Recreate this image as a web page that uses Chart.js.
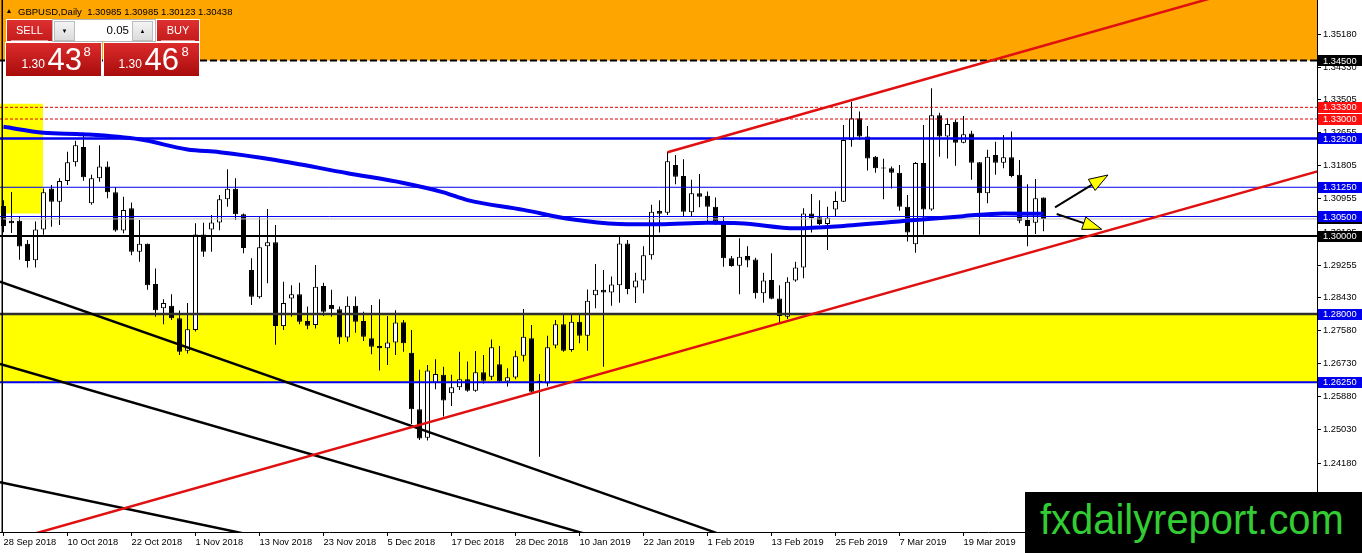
<!DOCTYPE html>
<html>
<head>
<meta charset="utf-8">
<title>GBPUSD,Daily</title>
<script src="https://cdn.jsdelivr.net/npm/chart.js@4.4.1/dist/chart.umd.min.js"></script>
<style>
  html, body { margin: 0; padding: 0; background: #fff; }
  #wrap { position: relative; width: 1362px; height: 553px; overflow: hidden;
          font-family: "Liberation Sans", Arial, sans-serif; }
  #chart { position: absolute; left: 0; top: 0; }
  .abs { position: absolute; white-space: nowrap; line-height: 1; }
  #tri { left: 7px; top: 9px; width: 0; height: 0;
         border-left: 2.5px solid transparent; border-right: 2.5px solid transparent;
         border-bottom: 4px solid #000; }
  #hdr { left: 18px; top: 6.5px; font-size: 9.5px; color: #000; }
  .btn { position: absolute; top: 20px; height: 21px; color: #fff; font-size: 11px;
         text-align: center; line-height: 21px;
         background: linear-gradient(#de3030, #c41b1b); box-shadow: 0 0 0 1px #fff; }
  .btn:after { content: ""; position: absolute; left: 4px; right: 4px; bottom: 0; height: 1px;
               background: rgba(255,255,255,0.55); }
  #lot { position: absolute; left: 52px; top: 19px; width: 102px; height: 21px;
         background: #fff; border: 1px solid #b8b8b8; }
  .spin { position: absolute; top: 1px; width: 19px; height: 18px; background: linear-gradient(#f4f4f4, #dcdcdc);
          border: 1px solid #bdbdbd; font-size: 6px; text-align: center; line-height: 18px; color: #000; }
  #lotv { right: 26px; top: 5px; font-size: 11.5px; color: #000; position: absolute; line-height: 1; }
  .px { position: absolute; top: 42.5px; width: 95px; height: 33.5px;
        background: linear-gradient(#dc2b2b, #a90c0c); box-shadow: 0 0 0 1px #fff; }
  .px span { position: absolute; color: #fff; line-height: 1; white-space: nowrap; }
  .s { font-size: 12px; top: 15.5px; }
  .b { font-size: 31px; top: 1.3px; }
  .e { font-size: 13px; top: 2.5px; }
  #wm { position: absolute; left: 1025px; top: 492px; width: 337px; height: 61px; background: #000; }
  #wmt { position: absolute; left: 15px; top: 7.4px; font-size: 42px; color: #33cc33; line-height: 1;
         white-space: nowrap; transform: scaleX(0.95); transform-origin: 0 0; }
</style>
</head>
<body>
<div id="wrap">
  <canvas id="chart" width="1362" height="553"></canvas>

  <div id="tri" class="abs"></div>
  <div id="hdr" class="abs">GBPUSD,Daily&nbsp; 1.30985 1.30985 1.30123 1.30438</div>

  <div class="btn" style="left:7px;width:45px;">SELL</div>
  <div id="lot">
    <div class="spin" style="left:1px;">&#9660;</div>
    <div id="lotv">0.05</div>
    <div class="spin" style="left:79px;">&#9650;</div>
  </div>
  <div class="btn" style="left:157px;width:42px;">BUY</div>

  <div class="px" style="left:6px;">
    <span class="s" style="left:15.5px;">1.30</span>
    <span class="b" style="left:41.5px;">43</span>
    <span class="e" style="left:77.5px;">8</span>
  </div>
  <div class="px" style="left:104px;">
    <span class="s" style="left:14.5px;">1.30</span>
    <span class="b" style="left:40.5px;">46</span>
    <span class="e" style="left:77.5px;">8</span>
  </div>

  <div id="wm"><div id="wmt">fxdailyreport.com</div></div>
</div>

<script>
// daily bars, one per trading day from 28 Sep 2018 (index 0) to the current bar
const openP = [
  1.3077,1.3039,1.3039,1.2980,1.2938,1.3017,1.3122,1.3088,1.3141,1.3189,
  1.3228,1.3084,1.3148,1.3178,1.3112,1.3014,1.3071,1.2960,1.2980,1.2877,
  1.2815,1.2821,1.2789,1.2706,1.2759,1.3004,1.3017,1.3035,1.3094,1.3121,
  1.3056,1.2913,1.2843,1.2974,1.2984,1.2769,1.2840,1.2851,1.2782,1.2772,
  1.2872,1.2823,1.2812,1.2740,1.2821,1.2782,1.2738,1.2718,1.2712,1.2727,
  1.2779,1.2701,1.2556,1.2483,1.2624,1.2644,1.2597,1.2612,1.2633,1.2603,
  1.2651,1.2639,1.2671,1.2627,1.2637,1.2693,1.2738,1.2624,1.2622,1.2719,
  1.2774,1.2708,1.2780,1.2744,1.2848,1.2862,1.2855,1.2874,1.2981,1.2868,
  1.2886,1.2951,1.3064,1.3060,1.3182,1.3154,1.3061,1.3110,1.3103,1.3075,
  1.3033,1.2943,1.2924,1.2949,1.2940,1.2853,1.2887,1.2840,1.2793,1.2886,
  1.2919,1.3058,1.3048,1.3031,1.3068,1.3088,1.3246,1.3302,1.3255,1.3203,
  1.3174,1.3174,1.3162,1.3075,1.2979,1.3187,1.3068,1.3310,1.3255,1.3293,
  1.3239,1.3263,1.3189,1.3110,1.3208,1.3188,1.3202,1.3157,1.3041,1.3034,
  1.30985
];
const highP = [
  1.3092,1.3113,1.3050,1.2990,1.3037,1.3122,1.3131,1.3148,1.3216,1.3244,
  1.3259,1.3157,1.3233,1.3191,1.3126,1.3101,1.3086,1.3041,1.2981,1.2917,
  1.2838,1.2851,1.2809,1.2828,1.3033,1.3034,1.3054,1.3105,1.3171,1.3148,
  1.3058,1.2943,1.3048,1.3069,1.3028,1.2883,1.2874,1.2880,1.2819,1.2926,
  1.2880,1.2862,1.2819,1.2845,1.2845,1.2806,1.2823,1.2838,1.2795,1.2810,
  1.2785,1.2759,1.2657,1.2669,1.2684,1.2665,1.2644,1.2703,1.2678,1.2705,
  1.2695,1.2735,1.2718,1.2661,1.2706,1.2813,1.2772,1.2646,1.2744,1.2785,
  1.2798,1.2798,1.2802,1.2863,1.2928,1.2913,1.2896,1.2998,1.2990,1.2906,
  1.2974,1.3080,1.3092,1.3216,1.3208,1.3197,1.3144,1.3159,1.3114,1.3099,
  1.3050,1.2949,1.2994,1.2974,1.2944,1.2906,1.2956,1.2874,1.2894,1.2934,
  1.3071,1.3108,1.3092,1.3075,1.3114,1.3285,1.3344,1.3319,1.3282,1.3205,
  1.3198,1.3178,1.3182,1.3105,1.3190,1.3285,1.3379,1.3316,1.3302,1.3299,
  1.3308,1.3270,1.3190,1.3221,1.3242,1.3259,1.3268,1.3195,1.3133,1.3146,
  1.30985
];
const lowP = [
  1.3010,1.3008,1.2939,1.2919,1.2919,1.3003,1.3024,1.3028,1.3131,1.3178,
  1.3142,1.3080,1.3139,1.3097,1.3011,1.3007,1.2951,1.2934,1.2862,1.2793,
  1.2774,1.2785,1.2695,1.2699,1.2755,1.2947,1.2960,1.3015,1.3075,1.3041,
  1.2956,1.2823,1.2840,1.2879,1.2721,1.2759,1.2793,1.2774,1.2761,1.2763,
  1.2795,1.2793,1.2723,1.2729,1.2752,1.2731,1.2697,1.2655,1.2669,1.2695,
  1.2703,1.2518,1.2477,1.2476,1.2607,1.2537,1.2564,1.2605,1.2601,1.2601,
  1.2622,1.2631,1.2624,1.2614,1.2633,1.2678,1.2597,1.2434,1.2614,1.2712,
  1.2703,1.2703,1.2725,1.2706,1.2815,1.2665,1.2821,1.2829,1.2851,1.2828,
  1.2853,1.2940,1.3009,1.3054,1.3133,1.3051,1.3050,1.3074,1.3037,1.3028,
  1.2921,1.2921,1.2851,1.2920,1.2840,1.2829,1.2838,1.2776,1.2787,1.2883,
  1.2892,1.3009,1.3028,1.2964,1.3050,1.3087,1.3229,1.3246,1.3168,1.3162,
  1.3094,1.3122,1.3065,1.2986,1.2957,1.3003,1.3065,1.3203,1.3199,1.3180,
  1.3238,1.3144,1.3003,1.3084,1.3157,1.3174,1.3151,1.3033,1.2974,1.3005,
  1.30123
];
const closeP = [
  1.3026,1.3033,1.2973,1.2936,1.3017,1.3112,1.3088,1.3141,1.3189,1.3233,
  1.3151,1.3148,1.3178,1.3112,1.3014,1.3067,1.2960,1.2980,1.2874,1.2810,
  1.2828,1.2789,1.2703,1.2761,1.3004,1.2960,1.3035,1.3094,1.3121,1.3056,
  1.2969,1.2844,1.2971,1.2984,1.2769,1.2828,1.2851,1.2780,1.2770,1.2870,
  1.2806,1.2812,1.2740,1.2821,1.2780,1.2742,1.2716,1.2712,1.2727,1.2778,
  1.2725,1.2556,1.2481,1.2655,1.2646,1.2578,1.2612,1.2633,1.2603,1.2651,
  1.2629,1.2715,1.2627,1.2638,1.2692,1.2742,1.2601,1.2629,1.2715,1.2774,
  1.2706,1.2780,1.2744,1.2834,1.2862,1.2855,1.2876,1.2981,1.2864,1.2886,
  1.2951,1.3062,1.3057,1.3192,1.3152,1.3062,1.3110,1.3101,1.3075,1.3037,
  1.2943,1.2923,1.2947,1.2937,1.2853,1.2886,1.2839,1.2795,1.2883,1.2919,
  1.3058,1.3046,1.3031,1.3047,1.3090,1.3246,1.3302,1.3255,1.3199,1.3174,
  1.3173,1.3162,1.3075,1.3009,1.3187,1.3068,1.3310,1.3255,1.3287,1.3239,
  1.3261,1.3188,1.3110,1.3203,1.3188,1.3202,1.3154,1.3039,1.3026,1.3097,
  1.30438
];

// date axis: a label every 8 bars
const tickIdx = [0, 8, 16, 24, 32, 40, 48, 56, 64, 72, 80, 88, 96, 104, 112, 120];
const dateLabels = ['28 Sep 2018', '10 Oct 2018', '22 Oct 2018', '1 Nov 2018', '13 Nov 2018',
  '23 Nov 2018', '5 Dec 2018', '17 Dec 2018', '28 Dec 2018', '10 Jan 2019', '22 Jan 2019',
  '1 Feb 2019', '13 Feb 2019', '25 Feb 2019', '7 Mar 2019', '19 Mar 2019'];

// price axis
const priceTicks = [1.2333, 1.2418, 1.2503, 1.2588, 1.2673, 1.2758, 1.2843, 1.29255,
  1.30105, 1.30955, 1.31805, 1.32655, 1.33505, 1.3433, 1.3518];

// moving average (read at a few bars)
const maIdx = [0, 5, 10, 17, 23, 27, 34, 43, 50, 55, 58, 65, 71, 77, 82, 88, 92, 99, 105, 114, 120, 125, 130];
const maVal = [1.3280, 1.3265, 1.3261, 1.3248, 1.3222, 1.3215, 1.3195, 1.3161, 1.3136, 1.3112, 1.3092,
  1.3067, 1.3043, 1.3031, 1.3030, 1.3034, 1.3033, 1.3020, 1.3026, 1.3041, 1.3051, 1.3058, 1.3057];

// horizontal levels and zones
const levels = [1.345, 1.333, 1.330, 1.325, 1.3125, 1.305, 1.300, 1.280, 1.2625];
const orangeZone = [1.345];               // up to the top of the chart
const yellowZone = [1.2625, 1.280];
const boxBars = [-0.44, 4.95];
const boxPrices = [1.3058, 1.3339];

// trend lines [bar, price]
const redUpper = [[83, 1.3215], [151, 1.3610]];
const redLower = [[3.9, 1.2237], [165, 1.3170]];
const blackLine1 = [[-0.44, 1.2883], [89.1, 1.2239]];
const blackLine2 = [[-0.44, 1.2672], [72.6, 1.2237]];
const blackLine3 = [[-0.44, 1.2369], [30.1, 1.2237]];

// arrows [bar, price] start -> tip
const arrowStart = [[131.44, 1.30737], [131.65, 1.30565]];
const arrowEnd = [[138.06, 1.31565], [137.28, 1.30173]];

// ---------- layout / styles ----------
const XMIN = -0.4375, XMAX = 164.1875;
const YMIN = 1.22411, YMAX = 1.36052;
const BLUE = '#0000ee';
const levelStyle = [
  {color: '#000', width: 2, dash: [7, 3], box: '#000'},
  {color: '#e00000', width: 1, dash: [3, 2], box: '#ff1010'},
  {color: '#e00000', width: 1, dash: [3, 2], box: '#ff1010'},
  {color: BLUE, width: 2.5, dash: [], box: BLUE},
  {color: BLUE, width: 1, dash: [], box: BLUE},
  {color: BLUE, width: 1, dash: [], box: BLUE},
  {color: '#000', width: 2, dash: [], box: '#000'},
  {color: '#303030', width: 2.5, dash: [], box: BLUE},
  {color: BLUE, width: 2, dash: [], box: BLUE}
];

Chart.defaults.font.family = '"Liberation Sans", Arial, sans-serif';
Chart.defaults.font.size = 9.3;
Chart.defaults.color = '#000';

const bidPrice = closeP[closeP.length - 1];
const idx = openP.map((_, i) => i);
const wickData = idx.map(i => ({x: i, y: [lowP[i], highP[i]]}));
const bodyData = idx.map(i => ({x: i, y: [Math.min(openP[i], closeP[i]), Math.max(openP[i], closeP[i])]}));
const bodyColors = idx.map(i => closeP[i] >= openP[i] ? '#ffffff' : '#000000');

const hline = (p, x0 = XMIN, x1 = XMAX) => [{x: x0, y: p}, {x: x1, y: p}];
const seg = pts => pts.map(p => ({x: p[0], y: p[1]}));
const noLine = {type: 'line', pointRadius: 0, borderWidth: 0, borderColor: 'rgba(0,0,0,0)'};

const datasets = [
  {...noLine, data: hline(orangeZone[0]), fill: 'end', backgroundColor: '#ffa500', order: 30},
  {...noLine, data: hline(yellowZone[1]), fill: {value: yellowZone[0]}, backgroundColor: '#ffff00', order: 29},
  {...noLine, data: hline(boxPrices[1], boxBars[0], boxBars[1]), fill: {value: boxPrices[0]},
    backgroundColor: '#ffff00', order: 28},
  {type: 'bar', data: wickData, backgroundColor: '#000', borderWidth: 0, barThickness: 1,
    grouped: false, inflateAmount: 0, order: 20},
  {type: 'bar', data: bodyData, backgroundColor: bodyColors, borderColor: '#000', borderWidth: 1,
    borderSkipped: false, barThickness: 5, minBarLength: 1, grouped: false, inflateAmount: 0, order: 19},
  {type: 'line', data: hline(bidPrice), borderColor: '#c0c0c0', borderWidth: 1, pointRadius: 0, order: 12}
];
levels.forEach((p, k) => {
  const st = levelStyle[k];
  datasets.push({type: 'line', data: hline(p), borderColor: st.color, borderWidth: st.width,
    borderDash: st.dash, pointRadius: 0, order: 10});
});
datasets.push({type: 'line', data: maIdx.map((x, k) => ({x, y: maVal[k]})), borderColor: BLUE,
  borderWidth: 4, pointRadius: 0, cubicInterpolationMode: 'monotone', order: 8});
[blackLine1, blackLine2, blackLine3].forEach(l => datasets.push({type: 'line', data: seg(l),
  borderColor: '#000', borderWidth: 2.5, pointRadius: 0, order: 6}));
[redUpper, redLower].forEach(l => datasets.push({type: 'line', data: seg(l),
  borderColor: '#e01010', borderWidth: 2.5, pointRadius: 0, order: 5}));

const overlay = {
  id: 'overlay',
  afterDraw(chart) {
    const {ctx, chartArea: a, scales: {x, y}} = chart;
    ctx.save();
    // left frame
    ctx.strokeStyle = '#000';
    ctx.lineWidth = 1.5;
    ctx.beginPath(); ctx.moveTo(2.25, a.top); ctx.lineTo(2.25, a.bottom); ctx.stroke();

    // arrows
    ctx.save();
    ctx.beginPath(); ctx.rect(a.left, a.top, a.width, a.height); ctx.clip();
    arrowStart.forEach((s, k) => {
      const e = arrowEnd[k];
      const x0 = x.getPixelForValue(s[0]), y0 = y.getPixelForValue(s[1]);
      const x1 = x.getPixelForValue(e[0]), y1 = y.getPixelForValue(e[1]);
      const ang = Math.atan2(y1 - y0, x1 - x0);
      const len = 19, hw = 6.5;
      const bx = x1 - len * Math.cos(ang), by = y1 - len * Math.sin(ang);
      ctx.strokeStyle = '#000';
      ctx.lineWidth = 2;
      ctx.beginPath(); ctx.moveTo(x0, y0); ctx.lineTo(bx, by); ctx.stroke();
      ctx.beginPath();
      ctx.moveTo(x1, y1);
      ctx.lineTo(bx + hw * Math.sin(ang), by - hw * Math.cos(ang));
      ctx.lineTo(bx - hw * Math.sin(ang), by + hw * Math.cos(ang));
      ctx.closePath();
      ctx.fillStyle = '#ffff00';
      ctx.fill();
      ctx.lineWidth = 1;
      ctx.stroke();
    });
    ctx.restore();

    // price labels on the axis
    ctx.font = '9.3px "Liberation Sans", Arial, sans-serif';
    ctx.textBaseline = 'middle';
    const tag = (p, bg) => {
      const py = y.getPixelForValue(p);
      ctx.fillStyle = bg;
      ctx.fillRect(a.right + 1, Math.round(py - 5.5), 44, 11);
      ctx.fillStyle = '#fff';
      ctx.fillText(p.toFixed(5), a.right + 6, py + 0.5);
    };
    tag(bidPrice, '#000');
    levels.forEach((p, k) => tag(p, levelStyle[k].box));
    ctx.restore();
  }
};

new Chart(document.getElementById('chart'), {
  type: 'line',
  data: {datasets},
  options: {
    responsive: false,
    maintainAspectRatio: false,
    animation: false,
    events: [],
    layout: {padding: 0},
    plugins: {legend: {display: false}, tooltip: {enabled: false}, title: {display: false}},
    scales: {
      x: {
        type: 'linear', position: 'bottom', min: XMIN, max: XMAX, offset: false,
        grid: {drawOnChartArea: false, tickLength: 4, color: '#000', offset: false},
        border: {display: true, color: '#000', width: 1},
        ticks: {autoSkip: false, maxRotation: 0, minRotation: 0, align: 'start', padding: 1,
          callback: (v, k) => dateLabels[k]},
        afterBuildTicks: s => { s.ticks = tickIdx.map(v => ({value: v})); },
        afterFit: s => {
          s.height = 21;
          s.paddingLeft = s.paddingRight = s.paddingTop = s.paddingBottom = 0;
        }
      },
      y: {
        type: 'linear', position: 'right', min: YMIN, max: YMAX,
        grid: {drawOnChartArea: false, tickLength: 4, color: '#000'},
        border: {display: true, color: '#000', width: 1},
        ticks: {autoSkip: false, padding: 2, callback: v => v.toFixed(5)},
        afterBuildTicks: s => { s.ticks = priceTicks.map(v => ({value: v})); },
        afterFit: s => {
          s.width = 45;
          s.paddingLeft = s.paddingRight = s.paddingTop = s.paddingBottom = 0;
        }
      }
    }
  },
  plugins: [overlay]
});
</script>
</body>
</html>
